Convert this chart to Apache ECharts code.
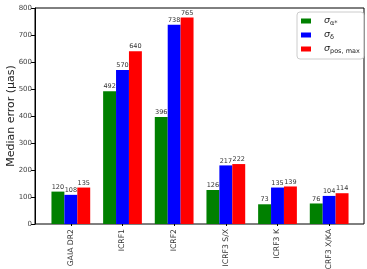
<!DOCTYPE html>
<html><head><meta charset="utf-8">
<script src="https://cdn.jsdelivr.net/npm/echarts@6/dist/echarts.min.js"></script>
<style>html,body{margin:0;padding:0;background:#fff}#c{width:367px;height:269px}</style>
</head><body><div id="c"></div>
<script>
const categories = ['GAIA DR2','ICRF1','ICRF2','ICRF3 S/X','ICRF3 K','ICRF3 X/KA'];
const sigmaAlpha = [120,492,396,126,73,76];
const sigmaDelta = [108,570,738,217,135,104];
const sigmaPosMax = [135,640,765,222,139,114];
const yTicks = [0,100,200,300,400,500,600,700,800];
const seriesNames = ['sa','sd','sp'];
const legendRich = {
  sa: '{s|σ}{sub|α*}',
  sd: '{s|σ}{sub|δ}',
  sp: '{s|σ}{sub|pos, max}'
};
const F = 'DejaVu Sans';
const chart = echarts.init(document.getElementById('c'), null, {renderer:'canvas'});
const lbl = {show:true, position:'top', distance:1, fontSize:6.5, color:'#333', fontFamily:F};
chart.setOption({
  animation:false,
  textStyle:{fontFamily:F},
  grid:[
    {left:35, right:3, top:8, bottom:45, show:true, borderColor:'#000', borderWidth:1, backgroundColor:'transparent', containLabel:false, outerBoundsMode:'none'},
    {left:45, right:12, top:8, bottom:45, containLabel:false, outerBoundsMode:'none'}
  ],
  legend:{
    orient:'vertical', left:297, top:12,
    data:seriesNames,
    icon:'rect', itemWidth:10, itemHeight:5, itemGap:3,
    padding:[4,4,4,4],
    borderColor:'#ccc', borderWidth:1, borderRadius:3,
    backgroundColor:'#fff',
    formatter: n => legendRich[n],
    textStyle:{
      color:'#222',
      rich:{
        s:{fontSize:9.5, fontStyle:'italic', fontFamily:F, color:'#222', padding:[0,0,0,8]},
        sub:{fontSize:6.5, fontFamily:F, color:'#222', padding:[5,0,0,0]}
      }
    }
  },
  xAxis:[
    {gridIndex:0, type:'value', min:0, max:1, show:false},
    {gridIndex:1, type:'category', data:categories,
     axisLine:{show:false},
     axisTick:{show:true, alignWithLabel:true, length:2, lineStyle:{color:'#000'}},
     axisLabel:{rotate:90, fontSize:7.7, color:'#333', margin:5, fontFamily:F, hideOverlap:false},
     splitLine:{show:false}}
  ],
  yAxis:[
    {gridIndex:0, type:'value', min:0, max:800, interval:100,
     name:'Median error (µas)', nameLocation:'middle', nameGap:18, nameMoveOverlap:false,
     nameTextStyle:{fontSize:11, color:'#222', fontFamily:F},
     axisLine:{show:true, lineStyle:{color:'#000'}},
     axisTick:{show:true, length:4, lineStyle:{color:'#000'}},
     axisLabel:{fontSize:7, color:'#444', margin:3, fontFamily:F,
       formatter: v => yTicks.includes(v) ? String(v) : ''},
     splitLine:{show:false}},
    {gridIndex:1, type:'value', min:0, max:800, interval:100, show:false}
  ],
  series:[
    {name:'sa', type:'bar', xAxisIndex:1, yAxisIndex:1, data:sigmaAlpha, itemStyle:{color:'#008000'}, barGap:'0%', barCategoryGap:'25%', label:lbl},
    {name:'sd', type:'bar', xAxisIndex:1, yAxisIndex:1, data:sigmaDelta, itemStyle:{color:'#0000ff'}, label:lbl},
    {name:'sp', type:'bar', xAxisIndex:1, yAxisIndex:1, data:sigmaPosMax, itemStyle:{color:'#ff0000'}, label:lbl}
  ]
});
</script></body></html>
